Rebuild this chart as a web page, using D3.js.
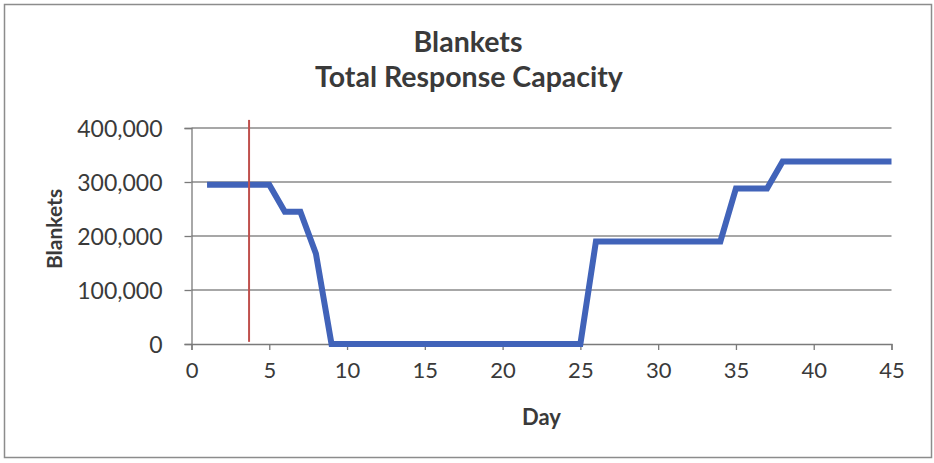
<!DOCTYPE html>
<html>
<head>
<meta charset="utf-8">
<script src="https://cdn.jsdelivr.net/npm/d3@7"></script>
<style>
  html, body { margin: 0; padding: 0; background: #fff; }
  svg { display: block; }
  text { font-family: Lato, "Open Sans", sans-serif; fill: #3a3a3a; }
</style>
</head>
<body>
<svg id="chart" width="934" height="463"></svg>
<script>
// Daily blanket response capacity
const days = d3.range(1, 46);
const blankets = [
  295000, 295000, 295000, 295000, 295000,          // days 1-5
  245000, 245000,                                  // days 6-7
  167000,                                          // day 8
  0, 0, 0, 0, 0, 0, 0, 0, 0, 0, 0, 0, 0, 0, 0, 0, 0, // days 9-25
  190000, 190000, 190000, 190000, 190000, 190000, 190000, 190000, 190000, // days 26-34
  288000, 288000, 288000,                          // days 35-37
  338000, 338000, 338000, 338000, 338000, 338000, 338000, 338000  // days 38-45
];
const xTicks = [0, 5, 10, 15, 20, 25, 30, 35, 40, 45];
const yTicks = [0, 100000, 200000, 300000, 400000];
// current-day marker
const markerDay = [3.7, 3.7];
const markerLevel = [4000, 415000];

const titleLines = ["Blankets", "Total Response Capacity"];
const xTitle = "Day";
const yTitle = "Blankets";

const svg = d3.select("#chart");
const plot = { left: 191.5, right: 891.5, top: 128, bottom: 344 };

// outer chart frame
svg.append("rect")
  .attr("x", 4.5).attr("y", 4.5)
  .attr("width", 927).attr("height", 453)
  .attr("fill", "#fff").attr("stroke", "#8c8c8c").attr("stroke-width", 1.5);

const x = d3.scaleLinear().domain([0, 45]).range([plot.left, plot.right]);
const y = d3.scaleLinear().domain([0, 400000]).range([plot.bottom, plot.top]);

// horizontal gridlines
svg.append("g")
  .selectAll("line")
  .data(yTicks.filter(d => d > 0))
  .join("line")
  .attr("x1", plot.left).attr("x2", plot.right)
  .attr("y1", d => y(d)).attr("y2", d => y(d))
  .attr("stroke", "#8a8a8a").attr("stroke-width", 1.3);

// y axis
const yAxis = svg.append("g")
  .attr("transform", `translate(${plot.left},0)`)
  .call(d3.axisLeft(y).tickValues(yTicks).tickSize(7).tickPadding(22)
    .tickFormat(d3.format(",")));
yAxis.select(".domain").attr("stroke", "#7a7a7a").attr("stroke-width", 1.3);
yAxis.selectAll(".tick line").attr("stroke", "#7a7a7a").attr("stroke-width", 1.3);
yAxis.selectAll(".tick text")
  .attr("font-size", 23).attr("dy", "0.36em")
  .style("font-family", "Lato, 'Open Sans', sans-serif").attr("fill", "#3a3a3a");

// x axis
const xAxis = svg.append("g")
  .attr("transform", `translate(0,${plot.bottom})`)
  .call(d3.axisBottom(x).tickValues(xTicks).tickSize(6).tickPadding(12));
xAxis.select(".domain").attr("stroke", "#7a7a7a").attr("stroke-width", 1.3);
xAxis.selectAll(".tick line").attr("stroke", "#7a7a7a").attr("stroke-width", 1.3);
xAxis.selectAll(".tick text")
  .attr("font-size", 22)
  .style("font-family", "Lato, 'Open Sans', sans-serif").attr("fill", "#3a3a3a");

// capacity line
const line = d3.line().x((d, i) => x(days[i])).y(d => y(d));
svg.append("path")
  .datum(blankets)
  .attr("d", line)
  .attr("fill", "none")
  .attr("stroke", "#4163b9")
  .attr("stroke-width", 6)
  .attr("stroke-linejoin", "miter");

// current-day marker line
svg.append("line")
  .attr("x1", x(markerDay[0])).attr("x2", x(markerDay[1]))
  .attr("y1", y(markerLevel[1])).attr("y2", y(markerLevel[0]))
  .attr("stroke", "#c0504d").attr("stroke-width", 2);

// titles
svg.append("text")
  .attr("x", 468).attr("y", 52)
  .attr("text-anchor", "middle").attr("font-size", 28.5).attr("font-weight", "bold")
  .text(titleLines[0]);
svg.append("text")
  .attr("x", 469).attr("y", 87)
  .attr("text-anchor", "middle").attr("font-size", 28.5).attr("font-weight", "bold")
  .text(titleLines[1]);

svg.append("text")
  .attr("x", (plot.left + plot.right) / 2).attr("y", 425)
  .attr("text-anchor", "middle").attr("font-size", 22).attr("font-weight", "bold")
  .text(xTitle);

svg.append("text")
  .attr("transform", "translate(62,229) rotate(-90)")
  .attr("text-anchor", "middle").attr("font-size", 21).attr("font-weight", "bold")
  .text(yTitle);
</script>
</body>
</html>
